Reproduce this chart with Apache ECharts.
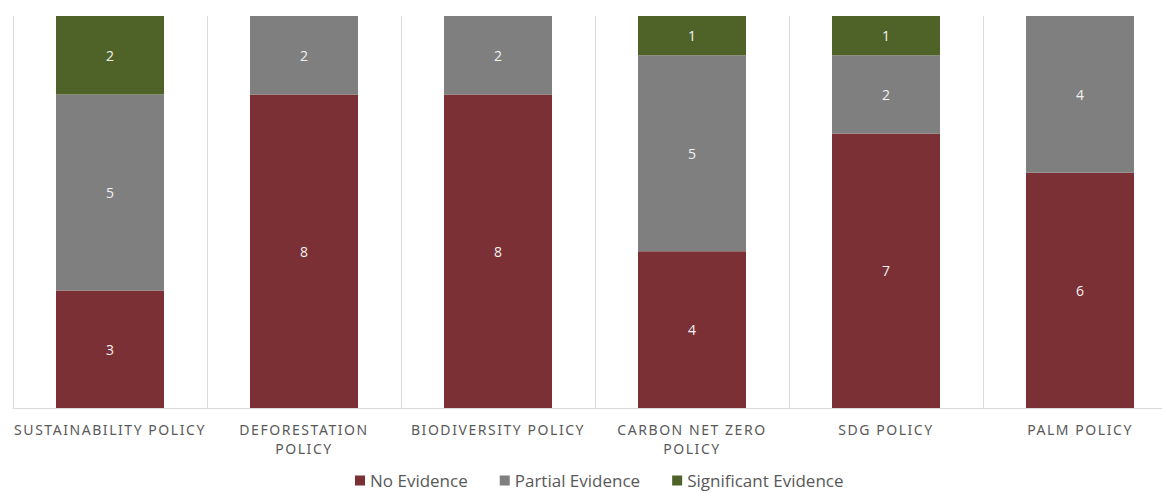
<!DOCTYPE html>
<html>
<head>
<meta charset="utf-8">
<title>Policy evidence</title>
<script src="https://cdn.jsdelivr.net/npm/echarts@6/dist/echarts.min.js"></script>
<style>
  html, body { margin: 0; padding: 0; background: #fff; overflow: hidden; }
  /* plot runs a little past the right edge, like the original */
  #chart { width: 1177px; height: 493px; }
  #chart text[style*="Noto Sans"] { letter-spacing: 1.55px; }
</style>
</head>
<body>
<div id="chart"></div>
<script>
const categories = [
  "SUSTAINABILITY POLICY",
  "DEFORESTATION\nPOLICY",
  "BIODIVERSITY POLICY",
  "CARBON NET ZERO\nPOLICY",
  "SDG POLICY",
  "PALM POLICY",
];
const noEvidence = [3, 8, 8, 4, 7, 6];
const partialEvidence = [5, 2, 2, 5, 2, 4];
const significantEvidence = [2, 0, 0, 1, 1, 0];

const chart = echarts.init(document.getElementById("chart"), null, { renderer: "svg" });

const labelStyle = {
  show: true,
  position: "inside",
  color: "#f2f2f2",
  fontSize: 14,
  fontFamily: "Open Sans",
  formatter: (p) => (p.value ? p.value : ""),
};

const option = {
  animation: false,
  textStyle: { fontFamily: "Open Sans" },
  grid: {
    left: 13,
    top: 16,
    right: 0,
    height: 392,
  },
  legend: {
    top: 467,
    left: 350,
    itemWidth: 10,
    itemHeight: 10,
    itemGap: 32,
    icon: "rect",
    textStyle: { color: "#595959", fontSize: 17, fontFamily: "Open Sans" },
    data: ["No Evidence", "Partial Evidence", "Significant Evidence"],
  },
  xAxis: {
    type: "category",
    data: categories,
    axisLine: { show: true, lineStyle: { color: "#d9d9d9" } },
    axisTick: { show: false },
    splitLine: { show: true, lineStyle: { color: "#d9d9d9" } },
    axisLabel: {
      color: "#595959",
      fontSize: 14,
      lineHeight: 19,
      margin: 12,
      interval: 0,
      fontFamily: "Noto Sans",
    },
  },
  yAxis: {
    type: "value",
    min: 0,
    max: 10,
    show: false,
    splitLine: { show: false },
  },
  series: [
    {
      name: "No Evidence",
      type: "bar",
      stack: "total",
      barWidth: 108,
      data: noEvidence,
      itemStyle: { color: "#7b3036" },
      label: labelStyle,
    },
    {
      name: "Partial Evidence",
      type: "bar",
      stack: "total",
      data: partialEvidence,
      itemStyle: { color: "#7f7f7f" },
      label: labelStyle,
    },
    {
      name: "Significant Evidence",
      type: "bar",
      stack: "total",
      data: significantEvidence,
      itemStyle: { color: "#4f6228" },
      label: labelStyle,
    },
  ],
};

chart.setOption(option);
</script>
</body>
</html>
